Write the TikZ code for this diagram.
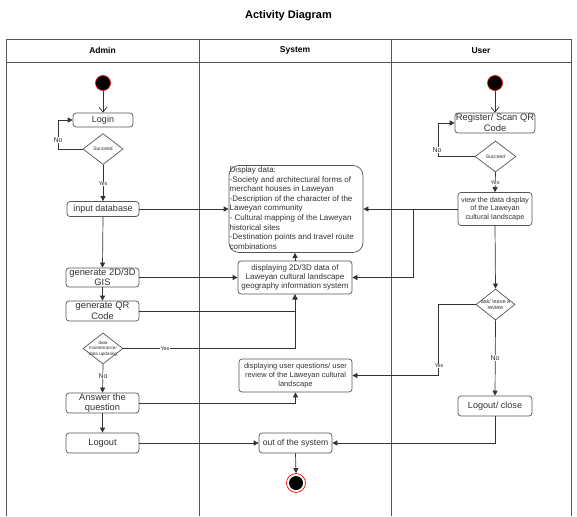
\documentclass[tikz,border=0pt]{standalone}
\usepackage{fontspec}
\setmainfont{Liberation Sans}
\usetikzlibrary{shapes.geometric,arrows.meta}
\definecolor{ln}{HTML}{333333}
\definecolor{bx}{HTML}{555555}
\definecolor{tx}{HTML}{333333}
\newcommand\myfs[2]{\fontsize{#1}{#2}\selectfont}
\begin{document}
\begin{tikzpicture}[x=1pt,y=-1pt,
 lane/.style={draw=bx, line width=0.8pt},
 act/.style={draw=bx, rounded corners=3pt, fill=white, align=center, text=tx, inner sep=0pt, line width=0.7pt},
 dia/.style={draw=bx, diamond, fill=white, inner sep=0pt, minimum width=40pt, minimum height=31pt, line width=0.7pt},
 diat/.style={text=tx, align=center, inner sep=0pt},
 startc/.style={circle, fill=black, draw=red, minimum size=15pt, inner sep=0pt, line width=0.6pt},
 endc/.style={circle, draw=red, fill=white, minimum size=19pt, inner sep=0pt, line width=0.7pt,
   path picture={\fill[black] (path picture bounding box.center) circle (7pt);}},
 arr/.style={draw=ln, line width=0.7pt, -{Triangle[length=5pt,width=5pt]}},
 openarr/.style={draw=ln, line width=0.7pt, -{Straight Barb[length=5pt,width=8pt]}},
 lbl/.style={fill=white, inner sep=0.5pt, text=tx},
 hdr/.style={font=\bfseries\myfs{8.5}{10}, text=black}
]
\useasboundingbox (0,0) rectangle (577,516);
% title
\node[font=\bfseries\myfs{11}{13}] (title) at (288.5,16) {Activity Diagram};
% lanes
\draw[lane] (6,516) -- (6,39) -- (571,39) -- (571,516);
\draw[lane] (199,39) -- (199,516);
\draw[lane] (391,39) -- (391,516);
\draw[lane] (6,62) -- (571,62);
\node[hdr] (hA) at (102.5,50.5) {Admin};
\node[hdr] (hS) at (295,50.5) {System};
\node[hdr] (hU) at (481,50.5) {User};

% Admin lane
\node[startc] (s1) at (103,83) {};
\node[act, minimum width=60pt, minimum height=14pt, font=\myfs{9}{10}] (login) at (103,120) {Login};
\node[dia] (succ1) at (103,149) {};
\node[diat, font=\myfs{5}{6}] (succ1t) at (succ1) {Succeed};
\node[act, minimum width=72pt, minimum height=15pt, font=\myfs{9}{10}] (input) at (103,209) {input database};
\node[act, minimum width=73pt, minimum height=19pt, font=\myfs{9.4}{10}] (gen2d) at (102.5,277.5) {generate 2D/3D\\GIS};
\node[act, minimum width=73pt, minimum height=20pt, font=\myfs{9.4}{10.5}] (genqr) at (102.5,311) {generate QR\\Code};
\node[dia] (dm) at (103,348.5) {};
\node[diat, font=\myfs{4.6}{5.4}] (dmt) at (dm) {data\\maintenance/\\data updating};
\node[act, minimum width=73pt, minimum height=20pt, font=\myfs{9.3}{10.8}] (answer) at (102.5,403) {Answer the\\question};
\node[act, minimum width=73pt, minimum height=20pt, font=\myfs{9.2}{10}] (logout) at (102.5,443) {Logout};

% System lane
\node[draw=bx, rounded corners=10pt, fill=white, line width=0.7pt, minimum width=134pt, minimum height=87pt, inner sep=0pt] (disp) at (296,209) {};
\node[anchor=north west, align=left, font=\myfs{8}{9.6}, text=tx, inner sep=0pt] (dispt) at (229.5,166.5) {Display data:\\-Society and architectural forms of\\merchant houses in Laweyan\\-Description of the character of the\\Laweyan community\\- Cultural mapping of the Laweyan\\historical sites\\-Destination points and travel route\\combinations};
\node[act, minimum width=114pt, minimum height=33pt, font=\myfs{8}{9.4}] (sys2d) at (295,277.5) {displaying 2D/3D data of\\Laweyan cultural landscape\\geography information system};
\node[act, minimum width=113pt, minimum height=33pt, font=\myfs{7.5}{9.3}] (uq) at (295.5,375.5) {displaying user questions/ user\\review of the Laweyan cultural\\landscape};
\node[act, minimum width=73pt, minimum height=20pt, font=\myfs{8.6}{10}] (out) at (295.5,443) {out of the system};
\node[endc] (end) at (296,483) {};

% User lane
\node[startc] (s2) at (495,83) {};
\node[act, minimum width=80pt, minimum height=20pt, font=\myfs{9.4}{11}] (reg) at (495,123) {Register/ Scan QR\\Code};
\node[dia, minimum width=41pt] (succ2) at (495.5,156.5) {};
\node[diat, font=\myfs{5}{6}] (succ2t) at (succ2) {Succeed};
\node[act, minimum width=74pt, minimum height=33pt, font=\myfs{7.3}{8.8}] (view) at (495,209) {view the data display\\of the Laweyan\\cultural landscape};
\node[dia, minimum width=39pt] (ask) at (495.5,304.5) {};
\node[diat, font=\myfs{5.5}{6.5}] (askt) at (ask) {ask/ leave a\\review};
\node[act, minimum width=74pt, minimum height=20pt, font=\myfs{9.1}{10}] (lc) at (495,406) {Logout/ close};

% Admin connectors
\draw[openarr] (s1) -- (login);
\draw[arr] (succ1.west) -- ++(-24,0) |- (login.west);
\node[lbl, font=\myfs{7}{8}] (no1) at (58,140) {No};
\draw[arr] (succ1.south) -- (input.north);
\node[lbl, font=\myfs{5.5}{6.5}] (yes1) at (103,184) {Yes};
\draw[arr] (input.east) -- (disp.west);
\draw[arr] (input.south) -- (gen2d.north);
\draw[arr] (gen2d.east) -- (sys2d.west);
\draw[arr] (gen2d.south) -- (genqr.north);
\draw[arr] (genqr.east) -| (sys2d.south);
\draw[arr] (dm.east) -| (sys2d.south);
\node[lbl, font=\myfs{5.5}{6.5}] (yes2) at (165,348.5) {Yes};
\draw[arr] (dm.south) -- (answer.north);
\node[lbl, font=\myfs{7}{8}] (no2) at (103,376) {No};
\draw[arr] (answer.east) -| (uq.south);
\draw[arr] (answer.south) -- (logout.north);
\draw[arr] (logout.east) -- (out.west);

% System connectors
\draw[arr] (sys2d.north) -- (sys2d.north |- disp.south);
\draw[arr] (out.south) -- (end.north);

% User connectors
\draw[openarr] (s2) -- (reg);
\draw[arr] (succ2.west) -- ++(-36,0) |- (reg.west);
\node[lbl, font=\myfs{7}{8}] (no3) at (437,150) {No};
\draw[arr] (succ2.south) -- (view.north);
\node[lbl, font=\myfs{5.5}{6.5}] (yes3) at (495,183) {Yes};
\draw[arr] (view.west) -- (disp.east);
\coordinate (br) at (413,209);
\draw[arr] (br) |- (sys2d.east);
\draw[arr] (view.south) -- (ask.north);
\draw[arr] (ask.west) -- ++(-37,0) |- (uq.east);
\node[lbl, font=\myfs{5.5}{6.5}] (yes4) at (439,366) {Yes};
\draw[arr] (ask.south) -- (lc.north);
\node[lbl, font=\myfs{7}{8}] (no4) at (495,358) {No};
\draw[arr] (lc.south) |- (out.east);
\end{tikzpicture}
\end{document}
